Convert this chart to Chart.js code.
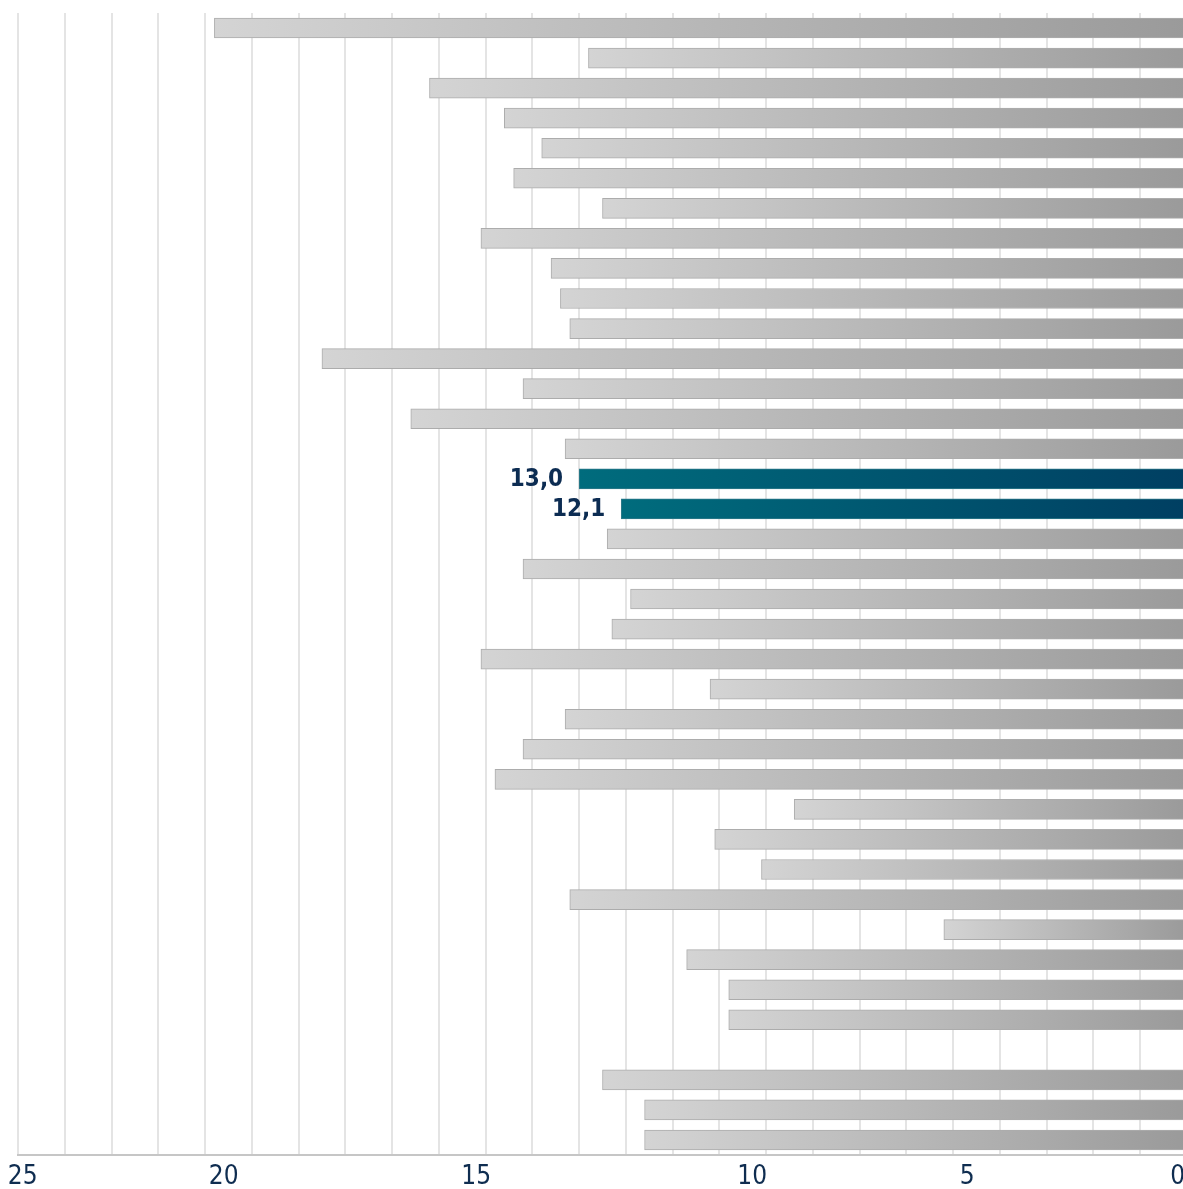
<!DOCTYPE html>
<html lang="no">
<head>
  <meta charset="UTF-8">
  <title>Stolpediagram</title>
  <script src="https://cdn.jsdelivr.net/npm/chart.js"></script>
  <style>
    html, body { margin: 0; padding: 0; background: #fff; overflow: hidden; }
    #wrap { width: 1200px; height: 1189px; }
  </style>
</head>
<body>
<div id="wrap"><canvas id="chart"></canvas></div>
<script>
  // Data (row 35 is an empty gap)
  const categories = [
    'K1', 'K2', 'K3', 'K4', 'K5', 'K6', 'K7', 'K8', 'K9', 'K10',
    'K11', 'K12', 'K13', 'K14', 'K15', 'K16', 'K17', 'K18', 'K19', 'K20',
    'K21', 'K22', 'K23', 'K24', 'K25', 'K26', 'K27', 'K28', 'K29', 'K30',
    'K31', 'K32', 'K33', 'K34', '', 'K35', 'K36', 'K37'
  ];
  const values = [
    20.8, 12.8, 16.2, 14.6, 13.8, 14.4, 12.5, 15.1, 13.6, 13.4,
    13.2, 18.5, 14.2, 16.6, 13.3, 13.0, 12.1, 12.4, 14.2, 11.9,
    12.3, 15.1, 10.2, 13.3, 14.2, 14.8, 8.4, 10.1, 9.1, 13.2,
    5.2, 10.7, 9.8, 9.8, null, 12.5, 11.6, 11.6
  ];
  const highlighted = [15, 16];
  const tickLabels = ['0', '5', '10', '15', '20', '25'];
  const tickValues = [0.2, 4.7, 9.3, 15.2, 20.6, 24.9];

  const FONT = '"Liberation Sans Narrow", "DejaVu Sans Condensed", "Noto Sans", sans-serif';

  // gradient per bar, light at the tip, dark at the base
  function barFill(ctx) {
    const chart = ctx.chart;
    if (!chart.chartArea || ctx.type !== 'data') return '#bbbbbb';
    const v = ctx.raw;
    if (v == null) return 'rgba(0,0,0,0)';
    const x0 = chart.scales.x.getPixelForValue(v);
    const x1 = chart.scales.x.getPixelForValue(0);
    const g = chart.ctx.createLinearGradient(x0, 0, x1, 0);
    if (highlighted.includes(ctx.dataIndex)) {
      g.addColorStop(0, '#006c7d');
      g.addColorStop(1, '#003f62');
    } else {
      g.addColorStop(0, '#d4d4d4');
      g.addColorStop(1, '#9a9a9a');
    }
    return g;
  }

  const valueLabels = {
    id: 'valueLabels',
    afterDatasetsDraw(chart) {
      const c = chart.ctx;
      const meta = chart.getDatasetMeta(0);
      c.save();
      c.font = 'bold 24px ' + FONT;
      c.fillStyle = '#0c2c52';
      c.textAlign = 'right';
      c.textBaseline = 'middle';
      highlighted.forEach(i => {
        const bar = meta.data[i];
        c.fillText(values[i].toFixed(1).replace('.', ','), bar.x - 16, bar.y + 1);
      });
      c.restore();
    }
  };

  new Chart(document.getElementById('chart'), {
    type: 'bar',
    data: {
      labels: categories,
      datasets: [{
        data: values,
        backgroundColor: barFill,
        borderColor: ctx => highlighted.includes(ctx.dataIndex) ? '#2f7a8a' : '#acacac',
        borderWidth: 1,
        barThickness: 20
      }]
    },
    options: {
      indexAxis: 'y',
      responsive: true,
      maintainAspectRatio: false,
      animation: false,
      layout: { padding: { top: 13, left: 18, right: 13, bottom: 0 } },
      plugins: { legend: { display: false }, tooltip: { enabled: false } },
      scales: {
        y: { display: false },
        x: {
          reverse: true,
          min: 0,
          max: 25,
          ticks: { display: false, stepSize: 1 },
          grid: { color: '#e4e4e4', lineWidth: 2, drawTicks: false },
          border: { display: false },
          afterFit: axis => { axis.height = 0; }
        },
        xLabels: {
          position: 'bottom',
          reverse: true,
          min: 0,
          max: 25,
          afterBuildTicks: axis => {
            axis.ticks = tickValues.map(v => ({ value: v }));
          },
          afterFit: axis => { axis.height = 34; },
          ticks: {
            autoSkip: false,
            maxRotation: 0,
            padding: 9,
            color: '#0f2d50',
            font: { family: FONT, size: 26, lineHeight: 1 },
            callback: (v, i) => tickLabels[i]
          },
          grid: { display: false, drawTicks: false },
          border: { display: true, color: '#c6c6c6', width: 2, dash: [2, 2] }
        }
      }
    },
    plugins: [valueLabels]
  });
</script>
</body>
</html>
